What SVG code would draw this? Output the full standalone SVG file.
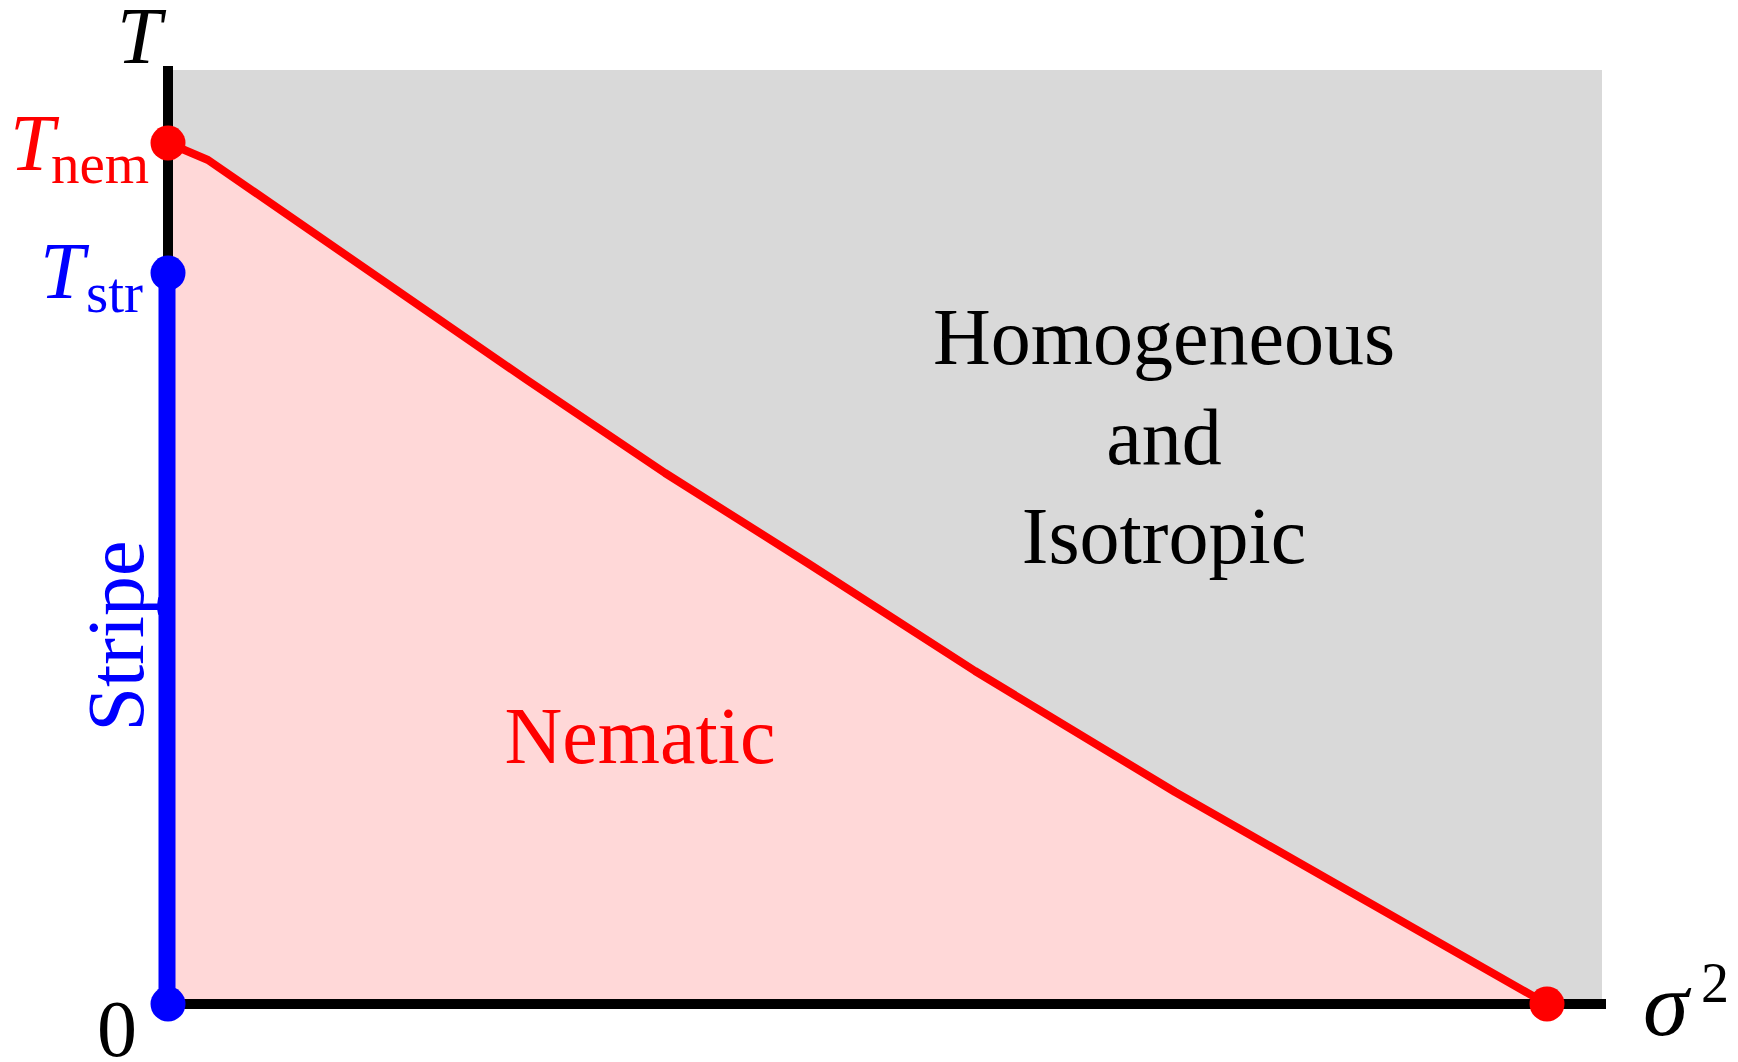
<svg xmlns="http://www.w3.org/2000/svg" width="1738" height="1062" viewBox="0 0 1738 1062">
<style>
text{font-family:"Liberation Serif","Times New Roman",serif;font-size:80px}
.it{font-style:italic}
.sub{font-size:57px}
.red{fill:#ff0000}
.blue{fill:#0000ff}
.blk{fill:#000000}
</style>
<rect x="0" y="0" width="1738" height="1062" fill="#ffffff"/>
<g id="regions">
<rect id="isotropic-region" x="173" y="70" width="1429" height="934" fill="#d9d9d9"/>
<polygon id="nematic-region" points="168,143 208,160 527,380 665,473 809,564 975,671 1175,792 1547,1004 168,1004" fill="#ffd8d8"/>
</g>
<g id="connectors">
<line id="t-axis" x1="168" y1="66" x2="168" y2="1004" stroke="#000" stroke-width="10"/>
<line id="sigma-axis" x1="168" y1="1004" x2="1606" y2="1004" stroke="#000" stroke-width="10"/>
<polyline id="nematic-boundary" points="168,143 208,160 527,380 665,473 809,564 975,671 1175,792 1547,1004" fill="none" stroke="#ff0000" stroke-width="8" stroke-linejoin="round"/>
<line id="stripe-line" x1="167" y1="273" x2="167" y2="1004" stroke="#0000ff" stroke-width="17"/>
</g>
<g id="points">
<circle id="tnem-point" cx="168" cy="143" r="17.5" fill="#ff0000"/>
<circle id="tstr-point" cx="168" cy="273" r="17.5" fill="#0000ff"/>
<circle id="origin-point" cx="168" cy="1004" r="17.5" fill="#0000ff"/>
<circle id="end-point" cx="1547" cy="1004" r="17.5" fill="#ff0000"/>
</g>
<g id="labels">
<text id="t-label" class="it blk" x="117" y="63">T</text>
<g id="tnem-label" class="red"><text class="it" x="10" y="170">T</text><text class="sub" x="51" y="183">nem</text></g>
<g id="tstr-label" class="blue"><text class="it" x="40" y="298">T</text><text class="sub" x="86" y="312">str</text></g>
<text id="zero-label" class="blk" x="97" y="1056">0</text>
<g id="sigma-label" class="blk"><text class="it" x="1643" y="1035" style="font-size:92px">σ</text><text x="1701" y="1002" style="font-size:56px">2</text></g>
<text id="stripe-label" class="blue" text-anchor="middle" transform="translate(143,636) rotate(-90)">Stripe</text>
<g id="homogeneous-label" class="blk" text-anchor="middle">
<text x="1164" y="364">Homogeneous</text>
<text x="1164" y="464">and</text>
<text x="1164" y="563">Isotropic</text>
</g>
<text id="nematic-label" class="red" x="640" y="763" text-anchor="middle">Nematic</text>
</g>
</svg>
